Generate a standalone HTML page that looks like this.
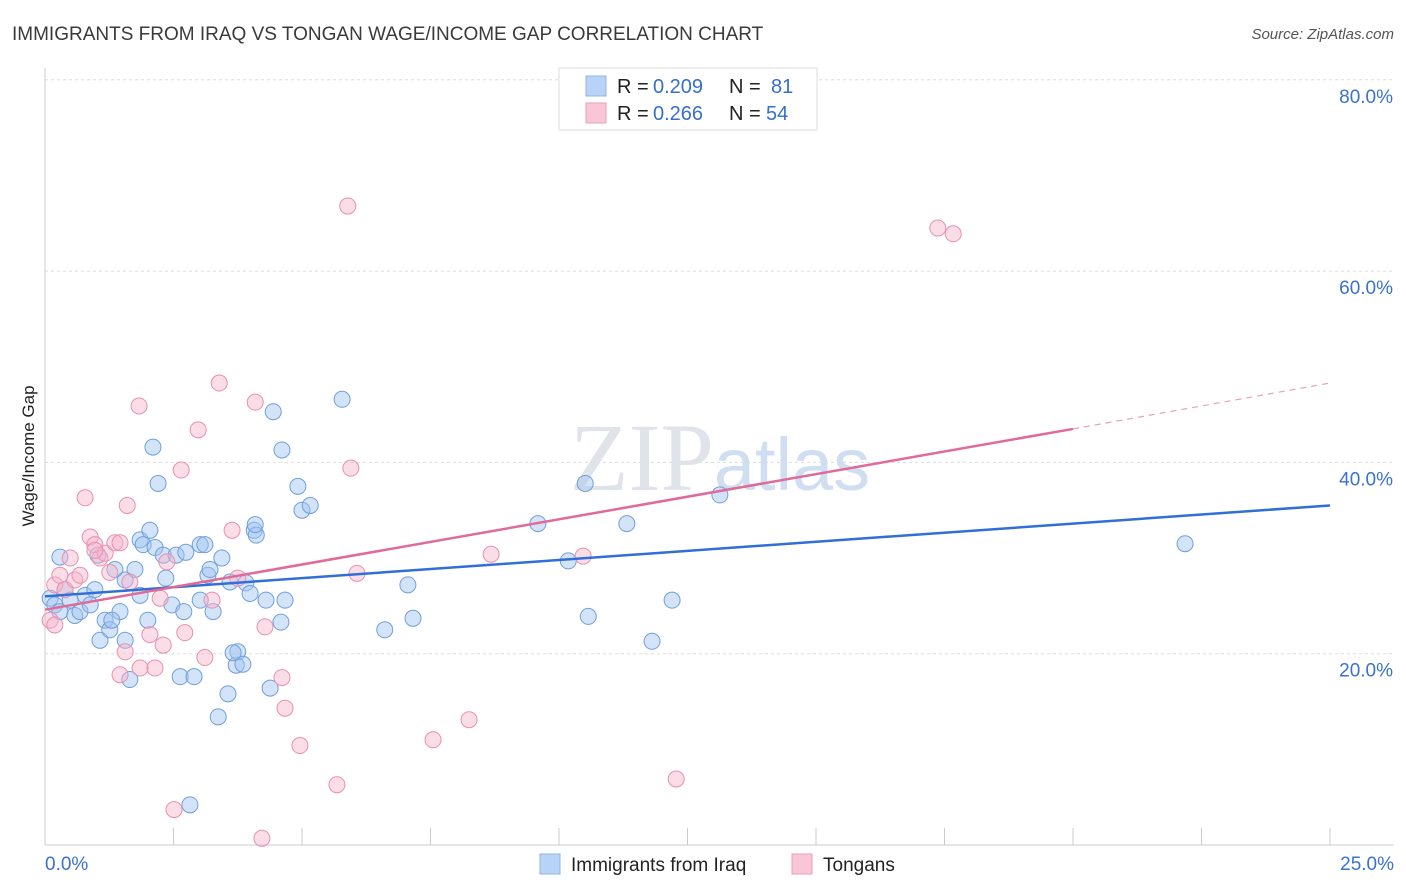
<!DOCTYPE html>
<html><head><meta charset="utf-8">
<style>
body{margin:0;background:#fff;font-family:"Liberation Sans",sans-serif;}
#wrap{position:relative;width:1406px;height:892px;overflow:hidden;}
</style></head>
<body>
<div id="wrap">
<svg id="svg" width="1406" height="892" xmlns="http://www.w3.org/2000/svg">
<text x="12" y="40" font-size="19" fill="#3a3a3a">IMMIGRANTS FROM IRAQ VS TONGAN WAGE/INCOME GAP CORRELATION CHART</text>
<text x="1394" y="39" font-size="15" fill="#555" text-anchor="end" font-style="italic">Source: ZipAtlas.com</text>
<text x="34" y="456" font-size="17" fill="#222" text-anchor="middle" transform="rotate(-90 34 456)">Wage/Income Gap</text>
<g id="grid"></g>
<text x="720" y="490" font-size="96" fill="#e0e4ea" text-anchor="middle" font-family="Liberation Serif">ZIP<tspan fill="#d0def2" font-family="Liberation Sans" font-size="74">atlas</tspan></text>
<g id="pts"></g>
<g id="lines"></g>
<g>
<rect x="559" y="68" width="258" height="62" fill="#fff" stroke="#ddd"/>
<rect x="586" y="76" width="20" height="20" fill="#b8d3f5" stroke="#8fb4e6"/>
<text x="617" y="93" font-size="20" fill="#222">R =</text>
<text x="653" y="93" font-size="20" fill="#3570c8">0.209</text>
<text x="729" y="93" font-size="20" fill="#222">N =</text>
<text x="771" y="93" font-size="20" fill="#3570c8">81</text>
<rect x="586" y="103" width="20" height="20" fill="#f8c6d6" stroke="#eaa0b8"/>
<text x="617" y="120" font-size="20" fill="#222">R =</text>
<text x="653" y="120" font-size="20" fill="#3570c8">0.266</text>
<text x="729" y="120" font-size="20" fill="#222">N =</text>
<text x="766" y="120" font-size="20" fill="#3570c8">54</text>
</g>
<g>
<rect x="540" y="854" width="20" height="20" fill="#b8d3f5" stroke="#8fb4e6"/>
<text x="571" y="871" font-size="19" fill="#222">Immigrants from Iraq</text>
<rect x="792" y="854" width="20" height="20" fill="#f8c6d6" stroke="#eaa0b8"/>
<text x="823" y="871" font-size="19" fill="#222">Tongans</text>
</g>
</svg>
</div>
<script>
const yTicks=[20,40,60,80];
const yTickLabels=["20.0%","40.0%","60.0%","80.0%"];
const xTicks=[0,2.5,5,7.5,10,12.5,15,17.5,20,22.5,25];
const xEndLabels=["0.0%","25.0%"];
const iraqX=[0.10,0.19,0.29,0.39,0.49,0.58,0.68,0.78,0.88,0.97,1.07,1.17,1.26,1.36,1.46,1.56,1.65,1.75,1.85,1.91,2.00,2.04,2.10,2.14,2.20,2.30,2.35,2.47,2.55,2.63,2.70,2.74,2.82,2.90,3.02,3.11,3.17,3.21,3.27,3.37,3.44,3.56,3.60,3.72,3.75,3.85,3.91,3.99,4.07,4.11,4.30,4.38,4.44,4.59,4.61,4.67,4.92,5.00,5.16,5.78,6.61,7.06,7.16,9.59,10.18,10.51,10.57,11.32,11.81,12.20,13.13,22.18,0.29,1.03,1.30,1.85,3.02,3.66,4.09,1.56];
const iraqY=[25.8,25.1,24.4,26.7,25.6,24.0,24.4,26.1,25.1,26.7,21.4,23.5,22.5,28.8,24.4,21.4,17.3,28.8,31.9,31.4,23.5,32.9,41.6,31.1,37.8,30.3,27.9,25.1,30.3,17.6,24.4,30.6,4.2,17.6,31.4,31.4,28.2,28.8,24.4,13.4,30.0,15.8,27.5,18.8,20.2,18.9,27.4,26.3,32.9,32.4,25.6,16.4,45.3,23.3,41.3,25.6,37.5,35.0,35.5,46.6,22.5,27.2,23.7,33.6,29.7,37.8,23.9,33.6,21.3,25.6,36.6,31.5,30.1,30.3,23.5,26.1,25.6,20.1,33.5,27.7];
const tonX=[0.10,0.19,0.29,0.39,0.49,0.58,0.68,0.78,0.88,0.97,1.07,1.17,1.26,1.36,1.46,1.56,1.60,1.65,1.83,1.85,2.04,2.14,2.24,2.30,2.37,2.51,2.65,2.72,2.98,3.11,3.25,3.39,3.64,3.75,4.09,4.22,4.28,4.61,4.67,4.96,5.68,5.89,5.95,6.07,7.55,8.25,8.68,10.47,12.28,17.37,17.67,1.46,0.97,0.19];
const tonY=[23.5,27.2,28.2,26.7,30.0,27.7,28.2,36.3,32.2,31.4,30.0,30.5,28.5,31.6,17.8,20.2,35.5,27.5,45.9,18.5,22.0,18.5,25.8,20.9,29.6,3.7,39.2,22.2,43.4,19.6,25.6,48.3,32.9,27.9,46.3,0.7,22.8,17.5,14.3,10.4,6.3,66.8,39.4,28.4,11.0,13.1,30.4,30.2,6.9,64.5,63.9,31.6,30.8,23.0];
const iraqTrend=[[0,26.0],[25,35.5]];
const tonTrend=[[0,24.6],[20,43.5],[25,48.3]];
const X=v=>45+v/25*1285, Y=v=>845-v/20*191.3;
const NS="http://www.w3.org/2000/svg";
function mk(tag,attrs,parent){const e=document.createElementNS(NS,tag);for(const k in attrs)e.setAttribute(k,attrs[k]);parent.appendChild(e);return e;}
const grid=document.getElementById('grid');
mk('line',{x1:45,y1:68,x2:45,y2:845,stroke:'#ccc'},grid);
mk('line',{x1:45,y1:845,x2:1394,y2:845,stroke:'#ccc'},grid);
yTicks.forEach((t,i)=>{
 const g=mk('line',{x1:45,y1:Y(t),x2:1394,y2:Y(t),stroke:'#ddd','stroke-dasharray':'3,3'},grid);
 
 
 const tx=mk('text',{x:1393,y:Y(t)+23,'font-size':19,fill:'#3a72cc','text-anchor':'end'},grid);
 tx.textContent=yTickLabels[i];
 
 
});
xTicks.forEach(t=>{const l=mk('line',{x1:X(t),y1:828,x2:X(t),y2:845,stroke:'#ccc'},grid);
 
 });
const xl0=mk('text',{x:45,y:870,'font-size':19,fill:'#3a72cc'},grid);xl0.textContent=xEndLabels[0];


const xl1=mk('text',{x:1394,y:870,'font-size':19,fill:'#3a72cc','text-anchor':'end'},grid);xl1.textContent=xEndLabels[1];


const pts=document.getElementById('pts');
iraqX.forEach((x,i)=>{const c=mk('circle',{cx:X(x),cy:Y(iraqY[i]),r:8,fill:'rgba(160,196,240,0.45)',stroke:'#6f9fdc','stroke-width':1},pts);
 
 });
tonX.forEach((x,i)=>{const c=mk('circle',{cx:X(x),cy:Y(tonY[i]),r:8,fill:'rgba(246,180,202,0.45)',stroke:'#e890ae','stroke-width':1},pts);
 
 });
const lines=document.getElementById('lines');
const bl=mk('line',{x1:X(iraqTrend[0][0]),y1:Y(iraqTrend[0][1]),x2:X(iraqTrend[1][0]),y2:Y(iraqTrend[1][1]),stroke:'#2f6fd6','stroke-width':2.5},lines);


const pl=mk('line',{x1:X(tonTrend[0][0]),y1:Y(tonTrend[0][1]),x2:X(tonTrend[1][0]),y2:Y(tonTrend[1][1]),stroke:'#e06a98','stroke-width':2.5},lines);


const pd=mk('line',{x1:X(tonTrend[1][0]),y1:Y(tonTrend[1][1]),x2:X(tonTrend[2][0]),y2:Y(tonTrend[2][1]),stroke:'#e8a0bc','stroke-width':1.2,'stroke-dasharray':'6,5'},lines);


</script>
</body></html>
